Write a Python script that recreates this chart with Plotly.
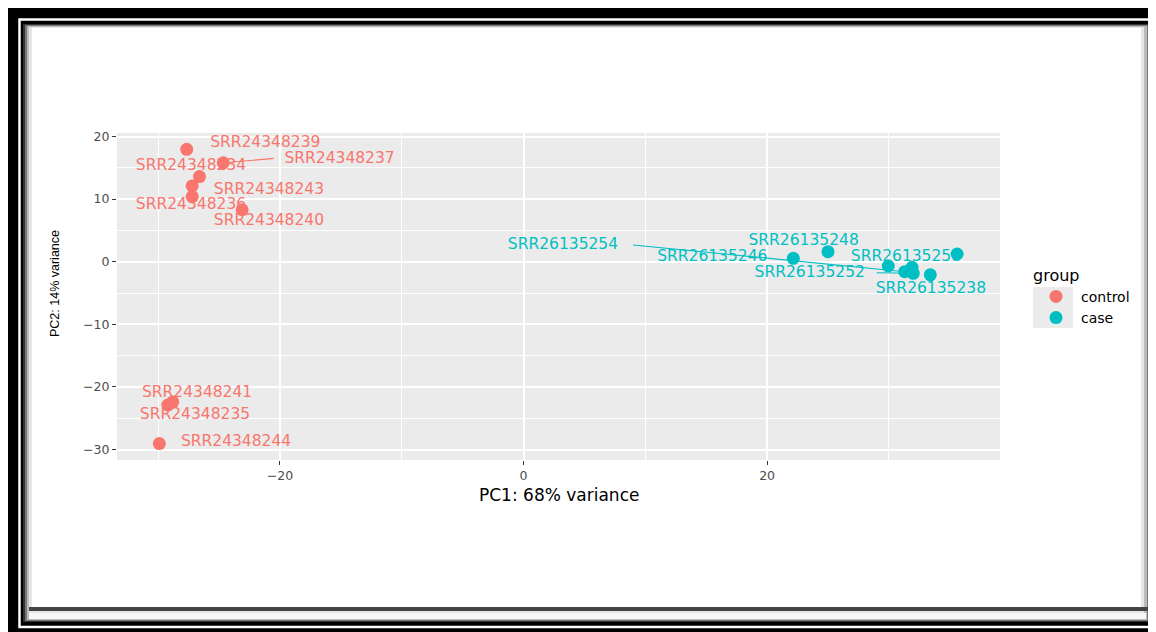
import plotly.graph_objects as go

# ---------------- data ----------------
control_names = ["SRR24348239", "SRR24348237", "SRR24348234", "SRR24348243", "SRR24348236",
                 "SRR24348240", "SRR24348241", "SRR24348235", "SRR24348244"]
control_pc1 = [-27.65, -24.65, -26.6, -27.2, -27.2, -23.1, -28.8, -29.2, -29.9]
control_pc2 = [17.95, 15.8, 13.6, 12.1, 10.4, 8.3, -22.4, -22.9, -29.05]

case_names = ["SRR26135248", "SRR26135246", "SRR26135258", "", "",
              "SRR26135254", "SRR26135252", "SRR26135238"]
case_pc1 = [25.0, 22.15, 35.6, 29.95, 31.9, 31.3, 32.0, 33.4]
case_pc2 = [1.6, 0.54, 1.23, -0.69, -0.9, -1.6, -1.85, -2.1]

x_ticks = [-20, 0, 20]
y_ticks = [-30, -20, -10, 0, 10, 20]
x_title = "PC1: 68% variance"
y_title = "PC2: 14% variance"
legend_title = "group"
group_names = ["control", "case"]

# repelled label placement (label centres) and leader-segment anchors
label_pos = {
    "SRR24348239": (-21.2, 18.9), "SRR24348237": (-15.1, 16.4), "SRR24348234": (-27.3, 15.2),
    "SRR24348243": (-20.9, 11.45), "SRR24348236": (-27.3, 9.06), "SRR24348240": (-20.9, 6.55),
    "SRR24348241": (-26.8, -20.95), "SRR24348235": (-26.97, -24.5), "SRR24348244": (-23.6, -28.9),
    "SRR26135254": (3.24, 2.67), "SRR26135248": (23.0, 3.35), "SRR26135246": (15.5, 0.8),
    "SRR26135258": (31.4, 0.8), "SRR26135252": (23.5, -1.76), "SRR26135238": (33.45, -4.4),
}
segment_anchor = {
    "SRR24348237": (-20.5, 16.5),
    "SRR26135254": (9.0, 2.67),
    "SRR26135252": (29.0, -1.76),
}

# ---------------- styling ----------------
COL = {"control": "#F8766D", "case": "#00BFC4"}
OFF = 8                      # page body margin
W, H = 1156 - OFF, 632 - OFF  # figure size
L, R, T, B = 117, 1000, 133, 460   # panel in page pixels
x_range = [(L - 523.5) / 12.18, (R - 523.5) / 12.18]
y_range = [(261.7 - B) / 6.26, (261.7 - T) / 6.26]


def px(xp):
    return (xp - L) / (R - L)


def py(yp):
    return (B - yp) / (B - T)


fig = go.Figure()

groups = [("control", control_names, control_pc1, control_pc2),
          ("case", case_names, case_pc1, case_pc2)]

# leader segments
for g, names, xs, ys in groups:
    for n, x, y in zip(names, xs, ys):
        if n in segment_anchor:
            ax, ay = segment_anchor[n]
            fig.add_trace(go.Scatter(x=[ax, x], y=[ay, y], mode="lines",
                                     line=dict(color=COL[g], width=1.1),
                                     showlegend=False, hoverinfo="skip"))

# labels
for g, names, xs, ys in groups:
    lx = [label_pos[n][0] for n in names if n]
    ly = [label_pos[n][1] for n in names if n]
    lt = [n for n in names if n]
    fig.add_trace(go.Scatter(x=lx, y=ly, text=lt, mode="text", textposition="middle center",
                             textfont=dict(family="DejaVu Sans", size=15.5, color=COL[g]),
                             showlegend=False, hoverinfo="skip", cliponaxis=False))

# points
for g, names, xs, ys in groups:
    fig.add_trace(go.Scatter(x=xs, y=ys, mode="markers", name=g,
                             marker=dict(color=COL[g], size=13, line=dict(width=0)),
                             hoverinfo="skip", cliponaxis=False))


# ---------------- frame shapes (page pixels -> paper) ----------------
def rect(x0, y0, x1, y1, fill, line=None, lw=0):
    return dict(type="rect", xref="paper", yref="paper", layer="below",
                x0=px(x0), x1=px(x1), y0=py(y1), y1=py(y0), fillcolor=fill,
                line=dict(width=lw, color=line if line else "rgba(0,0,0,0)"))


shapes = [
    rect(7, 8, 1170, 645, "black"),
    rect(19.5, 19.5, 1180, 627, "rgba(0,0,0,0)", "white", 2.5),
    rect(23, 24, 1151, 622, "#333333"),
    rect(25, 25, 1149, 621, "#777777"),
    rect(27, 26, 1147, 620, "#bbbbbb"),
    rect(29, 27, 1144, 619, "#e6e6e6"),
    rect(32, 28, 1141, 607, "white"),
    rect(29, 607, 1151, 611, "#444444"),
    rect(29, 613, 1146, 619, "#f7f7f7"),
    # panel background
    dict(type="rect", xref="paper", yref="paper", layer="below", x0=0, x1=1, y0=0, y1=1,
         fillcolor="#EBEBEB", line=dict(width=0)),
    # legend key background
    rect(1033, 287, 1073, 328, "#EBEBEB"),
]

axis_common = dict(showline=False, zeroline=False, ticks="outside", ticklen=4, tickwidth=1,
                   tickcolor="#333333", showgrid=True, gridcolor="white", gridwidth=1.8,
                   tickfont=dict(family="DejaVu Sans", size=12.5, color="#4D4D4D"))

fig.update_layout(
    width=W, height=H,
    margin=dict(l=L - OFF, r=W - (R - OFF), t=T - OFF, b=H - (B - OFF), pad=0),
    paper_bgcolor="white", plot_bgcolor="rgba(0,0,0,0)",
    hovermode=False,
    shapes=shapes,
    xaxis=dict(range=x_range, tickvals=x_ticks, ticktext=["\u221220", "0", "20"],
               minor=dict(dtick=10, tick0=0, showgrid=True, gridcolor="white", gridwidth=0.9, ticks=""),
               **axis_common),
    yaxis=dict(range=y_range, tickvals=y_ticks,
               ticktext=["\u221230", "\u221220", "\u221210", "0", "10", "20"],
               minor=dict(dtick=5, tick0=0, showgrid=True, gridcolor="white", gridwidth=0.9, ticks=""),
               **axis_common),
    legend=dict(x=px(1031), y=py(260), xanchor="left", yanchor="top",
                bgcolor="rgba(0,0,0,0)", tracegroupgap=0, itemwidth=40,
                title=dict(text=legend_title, font=dict(family="DejaVu Sans", size=16, color="black")),
                font=dict(family="DejaVu Sans", size=14, color="black")),
    annotations=[
        dict(text=x_title, xref="paper", yref="paper", x=0.5, y=py(495), showarrow=False,
             xanchor="center", yanchor="middle",
             font=dict(family="DejaVu Sans", size=17, color="black")),
        dict(text=y_title, xref="paper", yref="paper", x=px(55), y=py(283), showarrow=False,
             textangle=-90, xanchor="center", yanchor="middle",
             font=dict(family="Liberation Sans", size=12.5, color="black")),
    ],
)

fig.write_html("out.html")
